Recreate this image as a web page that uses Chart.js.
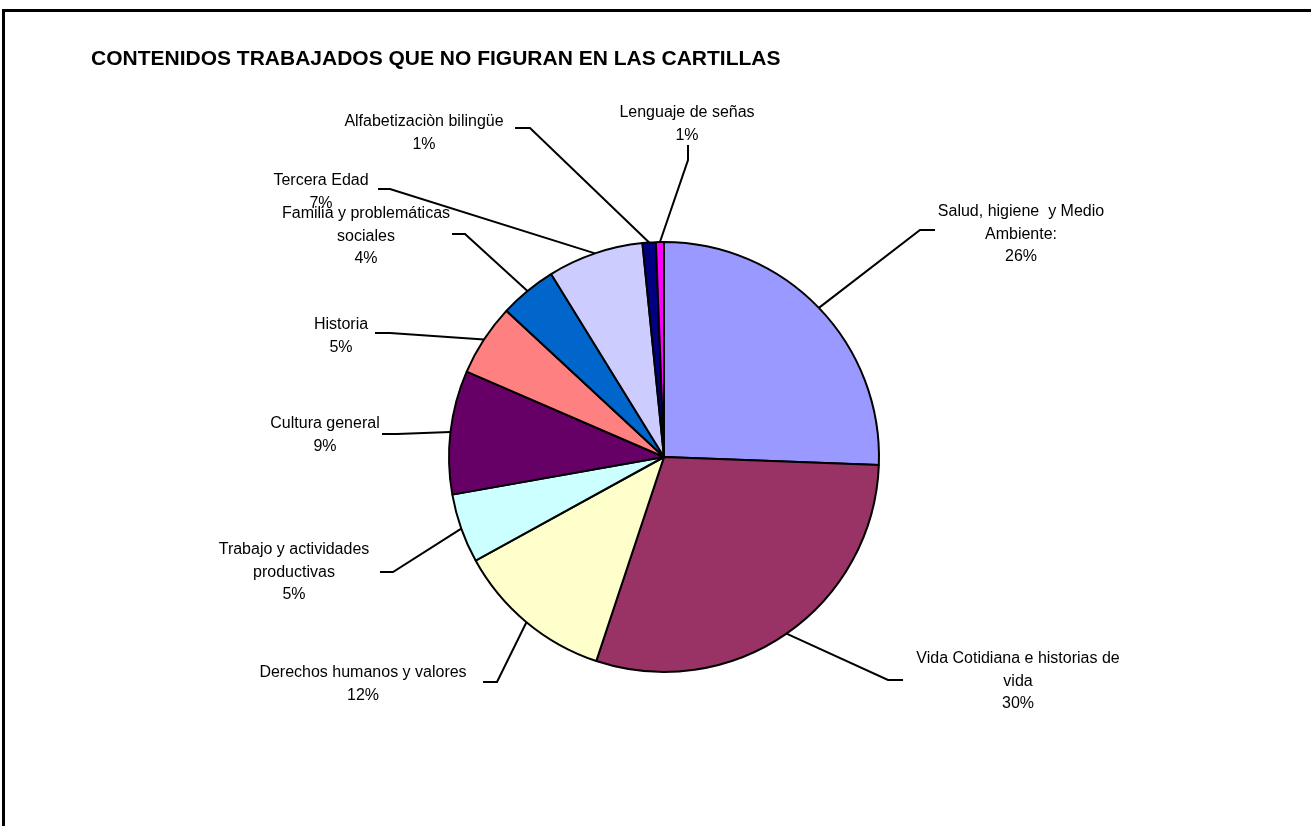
<!DOCTYPE html>
<html>
<head>
<meta charset="utf-8">
<script src="https://cdn.jsdelivr.net/npm/chart.js@4/dist/chart.umd.min.js"></script>
<style>
  html, body { margin: 0; padding: 0; background: #fff; }
  #wrap { position: relative; width: 1311px; height: 826px; overflow: hidden; }
  #frame { position: absolute; left: 2px; top: 9px; width: 1400px; height: 900px;
           border-top: 3px solid #000; border-left: 3px solid #000; box-sizing: border-box; }
  canvas { position: absolute; left: 0; top: 0; }
</style>
</head>
<body>
<div id="wrap">
  <div id="frame"></div>
  <canvas id="c" width="1311" height="826"></canvas>
</div>
<script>
const chartTitle = "CONTENIDOS TRABAJADOS QUE NO FIGURAN EN LAS CARTILLAS";
const categories = [
  "Salud, higiene  y Medio\nAmbiente:",
  "Vida Cotidiana e historias de\nvida",
  "Derechos humanos y valores",
  "Trabajo y actividades\nproductivas",
  "Cultura general",
  "Historia",
  "Familia y problemáticas\nsociales",
  "Tercera Edad",
  "Alfabetizaciòn bilingüe",
  "Lenguaje de señas"
];
const values = [25.6, 29.5, 11.9, 5.2, 9.3, 5.4, 4.3, 7.2, 1.0, 0.6];
const colors = ["#9999FF", "#993366", "#FFFFCC", "#CCFFFF", "#660066",
                "#FF8080", "#0066CC", "#CCCCFF", "#000080", "#FF00FF"];

// label layout: text centre x, first line centre y, leader knee and end points
const labelLayout = [
  { cx: 1021, y: 212, knee: [920, 230], end: [935, 230] },
  { cx: 1018, y: 659, knee: [888, 680], end: [903, 680] },
  { cx: 363,  y: 673, knee: [497, 682], end: [483, 682] },
  { cx: 294,  y: 550, knee: [393, 572], end: [380, 572] },
  { cx: 325,  y: 424, knee: [397, 434], end: [382, 434] },
  { cx: 341,  y: 325, knee: [390, 333], end: [375, 333] },
  { cx: 366,  y: 214, knee: [465, 234], end: [452, 234] },
  { cx: 321,  y: 181, knee: [390, 189], end: [378, 189] },
  { cx: 424,  y: 122, knee: [530, 128], end: [515, 128] },
  { cx: 687,  y: 113, knee: [688, 160], end: [688, 145] }
];
const LABEL_FONT = "16px 'Liberation Sans', Arial, sans-serif";
const TITLE_FONT = "bold 21px 'Liberation Sans', Arial, sans-serif";
const LINE_H = 22.5;

const labelPlugin = {
  id: 'pieLabels',
  afterDatasetsDraw(chart) {
    const ctx = chart.ctx;
    const meta = chart.getDatasetMeta(0);
    const data = chart.data.datasets[0].data;
    const total = data.reduce((a, b) => a + b, 0);
    ctx.save();
    ctx.strokeStyle = '#000';
    ctx.lineWidth = 2;
    meta.data.forEach((arc, i) => {
      const p = arc.getProps(['x', 'y', 'startAngle', 'endAngle', 'outerRadius'], true);
      const mid = (p.startAngle + p.endAngle) / 2;
      const sx = p.x + Math.cos(mid) * p.outerRadius;
      const sy = p.y + Math.sin(mid) * p.outerRadius;
      const L = labelLayout[i];
      ctx.beginPath();
      ctx.moveTo(sx, sy);
      ctx.lineTo(L.knee[0], L.knee[1]);
      ctx.lineTo(L.end[0], L.end[1]);
      ctx.stroke();
    });
    ctx.fillStyle = '#000';
    ctx.font = LABEL_FONT;
    ctx.textAlign = 'center';
    ctx.textBaseline = 'middle';
    meta.data.forEach((arc, i) => {
      const L = labelLayout[i];
      const lines = chart.data.labels[i].split('\n');
      lines.push(Math.round(data[i] * 100 / total + 1e-9) + '%');
      lines.forEach((t, k) => ctx.fillText(t, L.cx, L.y + k * LINE_H));
    });
    // title
    ctx.font = TITLE_FONT;
    ctx.textAlign = 'left';
    ctx.textBaseline = 'alphabetic';
    ctx.fillText(chartTitle, 91, 65);
    ctx.restore();
  }
};

new Chart(document.getElementById('c'), {
  type: 'pie',
  data: {
    labels: categories,
    datasets: [{
      data: values,
      backgroundColor: colors,
      borderColor: '#000',
      borderWidth: 2
    }]
  },
  options: {
    responsive: false,
    animation: false,
    radius: 215,
    layout: { padding: { left: 100, right: 83, top: 100, bottom: 12 } },
    plugins: { legend: { display: false }, title: { display: false }, tooltip: { enabled: false } }
  },
  plugins: [labelPlugin]
});
</script>
</body>
</html>
